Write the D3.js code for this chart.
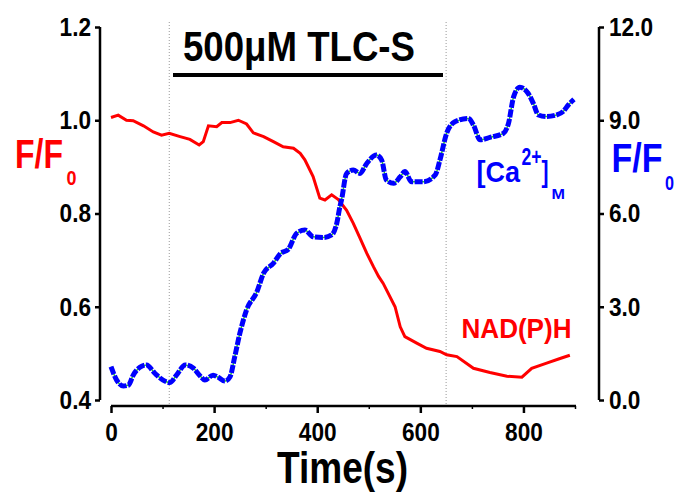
<!DOCTYPE html>
<html>
<head>
    <script src="https://d3js.org/d3.v7.min.js"></script>
    <style>
        body { margin: 0; padding: 0; background-color: #ffffff; }
        svg text { font-family: "Liberation Sans", Arial, sans-serif; font-weight: bold; }
    </style>
</head>
<body>
<div class="viz"></div>
<script>
    var width = 677,
        height = 494;

    // NAD(P)H trace (left axis, F/F0)
    var nadTime = [0, 14, 30, 43, 63, 82, 98, 113, 134, 153, 171, 179, 189, 205, 215, 231, 247, 263, 276, 296,
        315, 334, 354, 367, 376, 392, 405, 415, 428, 441, 457, 470, 483, 496, 509, 519, 528, 551, 561, 570,
        593, 612, 638, 651, 671, 703, 735, 768, 797, 816, 845, 871, 890];
    var nadValue = [1.006, 1.011, 1.0, 0.999, 0.988, 0.975, 0.968, 0.972, 0.965, 0.959, 0.947, 0.954, 0.988, 0.986, 0.995, 0.995, 1.0, 0.992, 0.973, 0.965,
        0.954, 0.943, 0.940, 0.929, 0.915, 0.879, 0.833, 0.829, 0.840, 0.830, 0.807, 0.779, 0.747, 0.715, 0.686, 0.665, 0.650, 0.600, 0.557, 0.536,
        0.522, 0.511, 0.504, 0.497, 0.493, 0.468, 0.459, 0.451, 0.449, 0.468, 0.479, 0.489, 0.496];

    // [Ca2+]M trace (right axis, F/F0)
    var caTime = [0, 11, 24, 34, 43, 56, 69, 85, 101, 114, 127, 144, 160, 173, 182, 198, 208, 221, 231, 240,
        250, 263, 283, 296, 315, 328, 344, 360, 376, 392, 412, 428, 438, 444, 447, 457, 470, 483, 496, 515,
        525, 534, 548, 561, 570, 583, 606, 629, 638, 651, 667, 693, 703, 716, 735, 761, 771, 781, 793, 809,
        819, 829, 845, 864, 877, 887, 898];
    var caValue = [1.07, 0.64, 0.45, 0.48, 0.80, 1.05, 1.13, 0.86, 0.64, 0.56, 0.80, 1.13, 1.02, 0.77, 0.64, 0.80, 0.73, 0.61, 0.75, 1.39,
        2.15, 2.90, 3.48, 4.08, 4.40, 4.70, 4.85, 5.36, 5.47, 5.25, 5.23, 5.31, 5.69, 6.22, 6.43, 7.29, 7.40, 7.29, 7.61, 7.88,
        7.72, 7.08, 6.97, 7.18, 7.35, 7.02, 7.02, 7.24, 7.72, 8.58, 8.95, 9.06, 8.85, 8.37, 8.45, 8.58, 8.90, 9.76, 10.06, 9.87,
        9.55, 9.17, 9.12, 9.17, 9.28, 9.49, 9.67];

    var xTicks = [0, 200, 400, 600, 800];
    var xMinor = [100, 300, 500, 700, 900];
    var leftTicks = [0.4, 0.6, 0.8, 1.0, 1.2];
    var rightTicks = [0, 3, 6, 9, 12];
    var drugStart = 113, drugEnd = 650;

    var svg = d3.select(".viz").append("svg")
        .attr("width", width)
        .attr("height", height);

    var x = d3.scaleLinear().domain([0, 900]).range([111, 575]);
    var yL = d3.scaleLinear().domain([0.4, 1.2]).range([400, 27]);
    var yR = d3.scaleLinear().domain([0, 12]).range([400, 27]);

    // narrow bold look: squeeze Liberation Sans horizontally
    function squeeze(sel, k) {
        sel.each(function(){
            var w = this.getComputedTextLength();
            d3.select(this).attr("textLength", w * k).attr("lengthAdjust", "spacingAndGlyphs");
        });
    }

    function label(px, py, txt, size, w, color) {
        return svg.append("text")
            .attr("x", px).attr("y", py)
            .attr("fill", color || "#000")
            .style("font-size", size + "px")
            .attr("textLength", w)
            .attr("lengthAdjust", "spacingAndGlyphs")
            .text(txt);
    }

    // dotted lines for drug application
    [drugStart, drugEnd].forEach(function(t){
        svg.append("line")
            .attr("x1", x(t)).attr("x2", x(t))
            .attr("y1", 22).attr("y2", 406)
            .attr("stroke", "#999")
            .attr("stroke-width", 1)
            .attr("stroke-dasharray", "1,2");
    });

    // axes
    var leftAxis = svg.append("g")
        .attr("transform", "translate(100,0)")
        .call(d3.axisLeft(yL).tickValues(leftTicks).tickFormat(d3.format(".1f")).tickSize(5).tickPadding(4));
    var rightAxis = svg.append("g")
        .attr("transform", "translate(599,0)")
        .call(d3.axisRight(yR).tickValues(rightTicks).tickFormat(d3.format(".1f")).tickSize(5).tickPadding(5));
    var bottomAxis = svg.append("g")
        .attr("transform", "translate(0,406)")
        .call(d3.axisBottom(x).tickValues(xTicks).tickFormat(d3.format("d")).tickSize(7).tickPadding(10));
    svg.append("g")
        .attr("transform", "translate(0,406)")
        .call(d3.axisBottom(x).tickValues(xMinor).tickFormat("").tickSize(3))
        .call(function(g){ g.select(".domain").remove(); })
        .selectAll(".tick line").attr("stroke", "#000").attr("stroke-width", 1.5);

    [leftAxis, rightAxis, bottomAxis].forEach(function(a){
        a.select(".domain").attr("stroke", "#000").attr("stroke-width", 2.5)
            .attr("d", a === bottomAxis ? "M111,0H576" : "M0,27V400");
        a.selectAll(".tick line").attr("stroke", "#000").attr("stroke-width", 2.5);
        a.selectAll(".tick text").attr("fill", "#000").style("font-size", "26px")
            .style("font-family", "'Liberation Sans', Arial, sans-serif");
        squeeze(a.selectAll(".tick text"), 0.87);
    });

    // traces
    var nadLine = d3.line()
        .x(function(d, i){ return x(nadTime[i]); })
        .y(function(d){ return yL(d); })
        .curve(d3.curveLinear);
    var caLine = d3.line()
        .x(function(d, i){ return x(caTime[i]); })
        .y(function(d){ return yR(d); })
        .curve(d3.curveMonotoneX);

    svg.append("path")
        .attr("d", nadLine(nadValue))
        .attr("fill", "none")
        .attr("stroke", "#ff0000")
        .attr("stroke-width", 3);

    svg.append("path")
        .attr("d", caLine(caValue))
        .attr("fill", "none")
        .attr("stroke", "#22cc22")
        .attr("stroke-width", 1.5);
    svg.append("path")
        .attr("d", caLine(caValue))
        .attr("fill", "none")
        .attr("stroke", "#0000ff")
        .attr("stroke-width", 5)
        .attr("stroke-dasharray", "8,1.5");

    // drug bar + label
    svg.append("line")
        .attr("x1", 173).attr("x2", 443)
        .attr("y1", 75).attr("y2", 75)
        .attr("stroke", "#000").attr("stroke-width", 4);
    label(183, 61, "500\u03bcM TLC-S", 42, 232);

    // axis titles
    label(15, 168, "F/F", 41, 48, "#ff0000");
    label(66.5, 185, "0", 21, 10, "#ff0000");
    label(611.5, 172, "F/F", 41, 51, "#0000ff");
    label(665, 190, "0", 21, 9, "#0000ff");

    label(277, 483, "Time(s)", 44, 131);

    // series labels
    label(476.5, 182, "[Ca", 30, 43.5, "#0000ff");
    label(521.5, 165, "2+", 23, 20, "#0000ff");
    label(541.5, 182, "]", 30, 7, "#0000ff");
    label(551.5, 198.5, "M", 14, 13.5, "#0000ff");

    label(461.5, 338, "NAD(P)H", 28, 110, "#ff0000");
</script>
</body>
</html>
